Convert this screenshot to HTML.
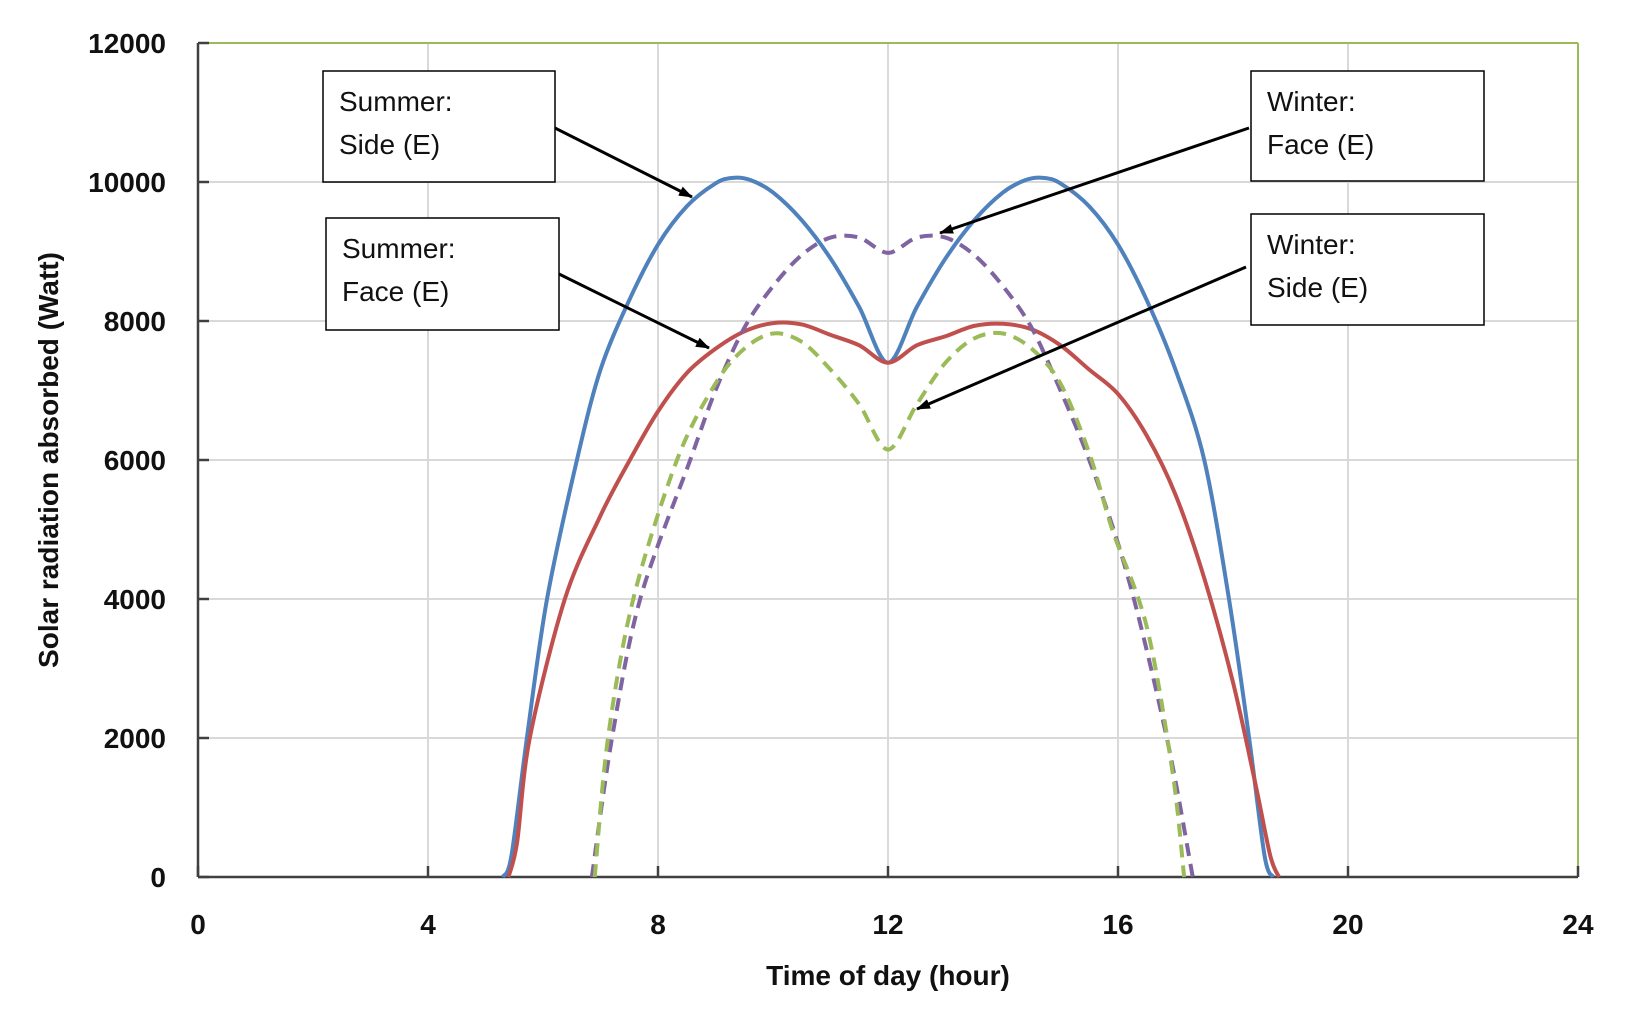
<!DOCTYPE html>
<html><head><meta charset="utf-8"><style>
body{margin:0;background:#fff;}
svg{display:block;font-family:"Liberation Sans",sans-serif;}
</style></head><body>
<svg id="chart" width="1634" height="1014" viewBox="0 0 1634 1014" xmlns="http://www.w3.org/2000/svg"></svg>
<script>
const xTicks=[0,4,8,12,16,20,24];
const yTicks=[0,2000,4000,6000,8000,10000,12000];
const summerSideHours=[5.3,5.45,5.72,6.07,6.59,7,7.5,8,8.5,9,9.3,9.6,10,10.5,11,11.5,12,12.5,13,13.5,14,14.4,14.7,15,15.5,16,16.5,17,17.5,17.93,18.28,18.55,18.7];
const summerSideValues=[0,300,2000,4000,6000,7300,8300,9100,9650,9980,10060,10030,9850,9450,8900,8200,7400,8200,8900,9450,9850,10030,10060,9980,9650,9100,8300,7300,6000,4000,2000,300,0];
const summerFaceHours=[5.4,5.55,5.77,6.38,7,7.51,8,8.5,9,9.5,10,10.5,11,11.5,12,12.5,13,13.5,14,14.5,15,15.5,16,16.5,17,17.5,18,18.4,18.65,18.8];
const summerFaceValues=[0,500,2000,4000,5200,6000,6700,7250,7600,7850,7970,7950,7800,7650,7400,7650,7780,7930,7960,7880,7650,7300,6950,6350,5500,4300,2800,1300,300,0];
const winterFaceHours=[6.85,7.2,7.69,8.56,9,9.5,10,10.5,11,11.5,12,12.5,13,13.5,14,14.5,15,15.5,16,16.4,16.9,17.3];
const winterFaceValues=[0,2000,4000,6000,7000,7900,8500,8950,9200,9200,8980,9200,9200,8950,8500,7900,7000,6000,4800,3600,1800,0];
const winterSideHours=[6.9,7.13,7.57,8.33,9,9.5,10,10.5,11,11.5,12,12.5,13,13.5,14,14.5,15,15.5,15.9,16.5,16.95,17.15];
const winterSideValues=[0,2000,4000,6000,7100,7600,7820,7700,7300,6800,6150,6800,7400,7750,7820,7600,7100,6100,5000,3600,1500,0];

const X0=198,X1=1578,Y0=877,Y1=43;
const xs=h=>X0+(h/24)*(X1-X0);
const ys=v=>Y0-(v/12000)*(Y0-Y1);
const svg=document.getElementById('chart');
const NS='http://www.w3.org/2000/svg';
function mk(tag,attrs,parent){const e=document.createElementNS(NS,tag);for(const k in attrs)e.setAttribute(k,attrs[k]);(parent||svg).appendChild(e);return e;}

yTicks.forEach(v=>{if(v>0&&v<12000){const l=mk('line',{x1:X0,x2:X1,y1:ys(v),y2:ys(v),stroke:'#d9d9d9','stroke-width':2});

}});
xTicks.forEach(h=>{if(h>0&&h<24){const l=mk('line',{x1:xs(h),x2:xs(h),y1:Y0,y2:Y1,stroke:'#d9d9d9','stroke-width':2});

}});
const bt=mk('line',{x1:X0,x2:X1,y1:Y1,y2:Y1,stroke:'#9bbb59','stroke-width':2});


const br=mk('line',{x1:X1,x2:X1,y1:Y1,y2:Y0,stroke:'#9bbb59','stroke-width':2});


const ya=mk('line',{x1:X0,x2:X0,y1:Y1,y2:Y0,stroke:'#404040','stroke-width':2.5});


const xa=mk('line',{x1:X0,x2:X1,y1:Y0,y2:Y0,stroke:'#404040','stroke-width':2.5});


yTicks.forEach(v=>{
 mk('line',{x1:X0,x2:X0+11,y1:ys(v),y2:ys(v),stroke:'#404040','stroke-width':2.5});
 const t=mk('text',{x:X0-32,y:ys(v)+10,'text-anchor':'end','font-size':28,'font-weight':'bold',fill:'#111'});
 t.textContent=v;
 
 
});
xTicks.forEach(h=>{
 mk('line',{x1:xs(h),x2:xs(h),y1:Y0,y2:Y0-11,stroke:'#404040','stroke-width':2.5});
 const t=mk('text',{x:xs(h),y:934,'text-anchor':'middle','font-size':28,'font-weight':'bold',fill:'#111'});
 t.textContent=h;
 
 
});
const xt=mk('text',{x:888,y:985,'text-anchor':'middle','font-size':28,'font-weight':'bold',fill:'#111'});
xt.textContent='Time of day (hour)';


const yt=mk('text',{x:0,y:0,'text-anchor':'middle','font-size':28,'font-weight':'bold',fill:'#111',transform:'translate(58,460) rotate(-90)'});
yt.textContent='Solar radiation absorbed (Watt)';



function smooth(hs,vs){
 const p=hs.map((h,i)=>[xs(h),ys(vs[i])]);
 let d='M'+p[0][0]+','+p[0][1];
 for(let i=0;i<p.length-1;i++){
  const a=p[Math.max(0,i-1)],b=p[i],c=p[i+1],e=p[Math.min(p.length-1,i+2)];
  const t=0.16;
  d+=' C'+(b[0]+(c[0]-a[0])*t)+','+(b[1]+(c[1]-a[1])*t)+' '+(c[0]-(e[0]-b[0])*t)+','+(c[1]-(e[1]-b[1])*t)+' '+c[0]+','+c[1];
 }
 return d;
}
const s1=mk('path',{d:smooth(summerSideHours,summerSideValues),fill:'none',stroke:'#4f81bd','stroke-width':4});


const s2=mk('path',{d:smooth(summerFaceHours,summerFaceValues),fill:'none',stroke:'#c0504d','stroke-width':4});


const s3=mk('path',{d:smooth(winterFaceHours,winterFaceValues),fill:'none',stroke:'#8064a2','stroke-width':4,'stroke-dasharray':'13 8'});


const s4=mk('path',{d:smooth(winterSideHours,winterSideValues),fill:'none',stroke:'#9bbb59','stroke-width':4,'stroke-dasharray':'13 8'});



mk('defs',{}).innerHTML='<marker id="ah" markerWidth="14" markerHeight="10" refX="13" refY="5" orient="auto" markerUnits="userSpaceOnUse" viewBox="0 0 14 10"><path d="M0,0 L14,5 L0,10 z" fill="#000"/></marker>';
function callout(name,x,y,w,h,l1,l2,ax1,ay1,ax2,ay2){
 const g=mk('g',{});
 
 
 mk('line',{x1:ax1,y1:ay1,x2:ax2,y2:ay2,stroke:'#000','stroke-width':3,'marker-end':'url(#ah)'},g);
 mk('rect',{x:x,y:y,width:w,height:h,fill:'#fff',stroke:'#000','stroke-width':1.5},g);
 const t1=mk('text',{x:x+16,y:y+40,'font-size':28,fill:'#111'},g);t1.textContent=l1;
 const t2=mk('text',{x:x+16,y:y+83,'font-size':28,fill:'#111'},g);t2.textContent=l2;
}
callout('summer-side-label',323,71,232,111,'Summer:','Side (E)',555,128,692,197);
callout('summer-face-label',326,218,233,112,'Summer:','Face (E)',559,274,709,348);
callout('winter-face-label',1251,71,233,110,'Winter:','Face (E)',1249,128,940,233);
callout('winter-side-label',1251,214,233,111,'Winter:','Side (E)',1246,267,917,409);
</script>
</body></html>
